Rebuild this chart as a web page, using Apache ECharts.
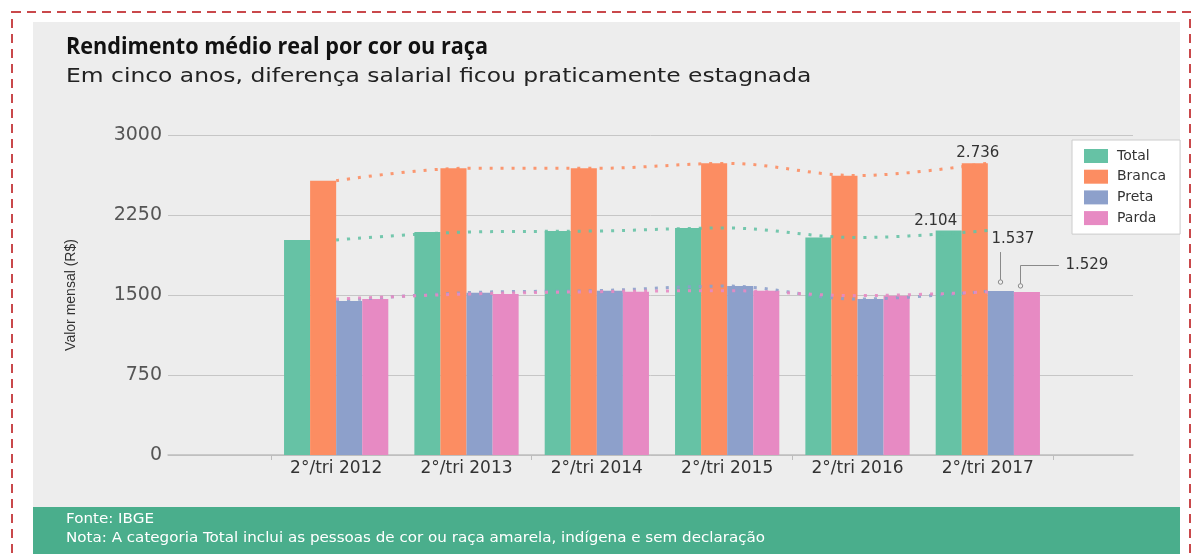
<!DOCTYPE html>
<html><head><meta charset="utf-8">
<script src="https://cdn.jsdelivr.net/npm/echarts@6/dist/echarts.min.js"></script>
<style>html,body{margin:0;padding:0;background:#fff}#c{width:1198px;height:559px}</style>
</head><body><div id="c"></div>
<script>
// ---- data ----
const categories = ['2°/tri 2012', '2°/tri 2013', '2°/tri 2014', '2°/tri 2015', '2°/tri 2016', '2°/tri 2017'];
const seriesNames = ['Total', 'Branca', 'Preta', 'Parda'];
const total  = [2016, 2090, 2100, 2128, 2038, 2104];
const branca = [2572, 2688, 2688, 2734, 2619, 2736];
const preta  = [1444, 1522, 1541, 1584, 1462, 1537];
const parda  = [1462, 1509, 1531, 1541, 1494, 1529];
const yMin = 0, yMax = 3000, yStep = 750;
const titleText = 'Rendimento médio real por cor ou raça';
const subtitleText = 'Em cinco anos, diferença salarial ficou praticamente estagnada';
const sourceText = 'Fonte: IBGE';
const noteText = 'Nota: A categoria Total inclui as pessoas de cor ou raça amarela, indígena e sem declaração';
const yName = 'Valor mensal (R$)';

const colors = ['#66c2a5', '#fc8d62', '#8da0cb', '#e78ac3'];
const values = [total, branca, preta, parda];
const last = categories.length - 1;
const fmt = v => String(v).replace(/\B(?=(\d{3})+(?!\d))/g, '.');
const FONT = 'DejaVu Sans';

// label offsets for the last-period annotations
const labelOffsets = [[-13, 1], [3, 0], [12, -41], [60, -16]];

const chart = echarts.init(document.getElementById('c'), null, {renderer: 'canvas'});

const barSeries = values.map((arr, s) => ({
  name: seriesNames[s],
  type: 'bar',
  xAxisIndex: 1, yAxisIndex: 1,
  barGap: '0%', barCategoryGap: '20%',
  itemStyle: {color: colors[s]},
  z: 2,
  data: arr.map((v, i) => i === last ? {
    value: v,
    label: {show: true, position: 'top', distance: 3, offset: labelOffsets[s],
      formatter: p => fmt(p.value), fontFamily: FONT, fontSize: 15, color: '#333'}
  } : v)
}));

const lineSeries = values.map((arr, s) => ({
  name: seriesNames[s] + ' (tendência)',
  type: 'line',
  xAxisIndex: 1, yAxisIndex: 1,
  smooth: 0.35,
  symbol: 'none',
  silent: true,
  z: 5,
  lineStyle: {color: colors[s], width: 3, type: [3, 8], opacity: 0.9},
  data: arr
}));

const option = {
  backgroundColor: '#ffffff',
  animation: false,
  textStyle: {fontFamily: FONT},
  grid: [
    {left: 168, right: 65, top: 135, bottom: 104},
    {left: 271, right: 145, top: 135, bottom: 104}
  ],
  xAxis: [
    {gridIndex: 0, type: 'category', data: [''],
      axisLine: {show: true, lineStyle: {color: '#bdbdbd', width: 1.5}},
      axisTick: {show: false}, axisLabel: {show: false}},
    {gridIndex: 1, type: 'category', data: categories,
      axisLine: {show: false},
      axisTick: {show: true, interval: 1, length: 5, lineStyle: {color: '#bdbdbd'}},
      axisLabel: {fontFamily: FONT, fontSize: 17, color: '#333', margin: 5}}
  ],
  yAxis: [
    {gridIndex: 0, type: 'value', min: yMin, max: yMax, interval: yStep,
      axisLine: {show: false}, axisTick: {show: false},
      axisLabel: {fontFamily: FONT, fontSize: 19, color: '#555', margin: 6, formatter: v => String(v)},
      splitLine: {lineStyle: {color: '#c6c6c6', width: 1}},
      name: yName, nameLocation: 'middle', nameRotate: 90, nameGap: 90,
      nameTextStyle: {fontFamily: 'Liberation Sans', fontSize: 14, color: '#333'}},
    {gridIndex: 1, type: 'value', min: yMin, max: yMax, interval: yStep, show: false,
      splitLine: {show: false}}
  ],
  legend: {
    data: seriesNames,
    orient: 'vertical',
    left: 1072, top: 140,
    backgroundColor: '#ffffff',
    borderColor: '#cccccc', borderWidth: 1,
    padding: [9, 14, 9, 12],
    itemGap: 6.7,
    itemWidth: 24, itemHeight: 14,
    icon: 'rect',
    textStyle: {fontFamily: FONT, fontSize: 14, color: '#333', padding: [0, 0, 0, 4]}
  },
  graphic: [
    {type: 'rect', z: -10, silent: true, shape: {x: 33, y: 22, width: 1147, height: 485}, style: {fill: '#ededed'}},
    {type: 'rect', z: -9, silent: true, shape: {x: 33, y: 507, width: 1147, height: 47}, style: {fill: '#4aae8c'}},
    {type: 'rect', z: -8, silent: true, shape: {x: 12, y: 12, width: 1178, height: 600},
      style: {fill: 'none', stroke: '#c9484b', lineWidth: 2, lineDash: [9, 6]}},
    {type: 'text', x: 66, y: 36, scaleX: 0.94, style: {text: titleText, font: 'bold 23px "Open Sans"', fill: '#111', textVerticalAlign: 'top'}},
    {type: 'text', x: 66, y: 67, scaleX: 1.17, style: {text: subtitleText, font: '20px "DejaVu Sans"', fill: '#222', textVerticalAlign: 'top'}},
    {type: 'text', x: 66, y: 512, scaleX: 1.08, style: {text: sourceText, font: '14px "DejaVu Sans"', fill: '#ffffff', textVerticalAlign: 'top'}},
    {type: 'text', x: 66, y: 531, scaleX: 1.08, style: {text: noteText, font: '14px "DejaVu Sans"', fill: '#ffffff', textVerticalAlign: 'top'}}
  ],
  series: barSeries.concat(lineSeries)
};

chart.setOption(option);

// leader lines for the 2017 Preta / Parda annotations, from the bar layouts
const model = chart.getModel();
function barTop(si, i) {
  const l = model.getSeriesByIndex(si).getData().getItemLayout(i);
  return {x: l.x, w: l.width, top: Math.min(l.y, l.y + l.height)};
}
const bp = barTop(2, last), pp = barTop(3, last);
const bx = Math.round(bp.x + bp.w / 2 - 1) + 0.5;
const px = Math.round(pp.x + 6) + 0.5;
const lineStyle = {stroke: '#8a8a8a', lineWidth: 1, fill: 'none'};
chart.setOption({graphic: option.graphic.concat([
  {type: 'polyline', z: 10, silent: true, shape: {points: [[bx, bp.top - 39], [bx, bp.top - 11]]}, style: lineStyle},
  {type: 'circle', z: 10, silent: true, shape: {cx: bx, cy: bp.top - 9, r: 2.2}, style: {stroke: '#8a8a8a', fill: '#eeeeee', lineWidth: 1}},
  {type: 'polyline', z: 10, silent: true, shape: {points: [[px, pp.top - 8], [px, Math.round(pp.top - 27) + 0.5], [pp.x + 45, Math.round(pp.top - 27) + 0.5]]}, style: lineStyle},
  {type: 'circle', z: 10, silent: true, shape: {cx: px, cy: pp.top - 6, r: 2.2}, style: {stroke: '#8a8a8a', fill: '#eeeeee', lineWidth: 1}}
])});
</script>
</body></html>
